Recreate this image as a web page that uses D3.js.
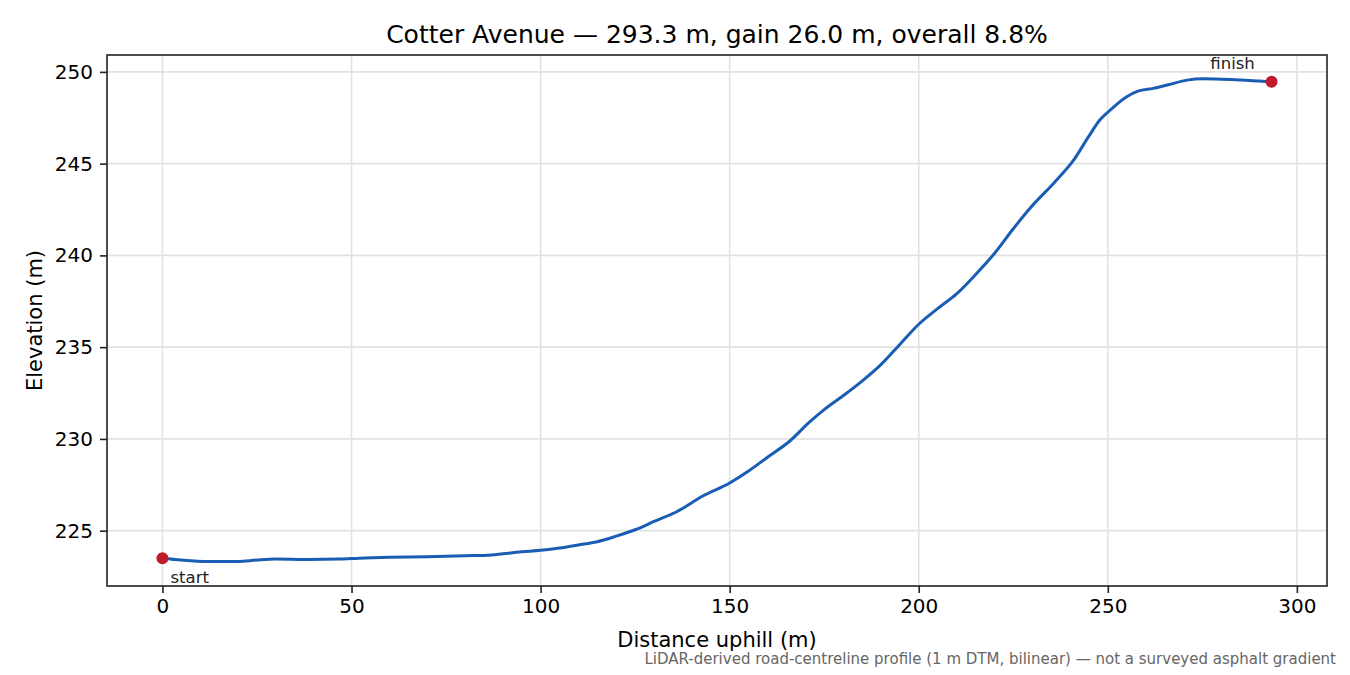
<!DOCTYPE html>
<html><head><meta charset="utf-8">
<script src="https://cdn.jsdelivr.net/npm/d3@7"></script>
<style>
body{margin:0;background:#fff;}
text{font-family:"DejaVu Sans",sans-serif;}
</style></head>
<body><svg id="c" width="1350" height="675"></svg>
<script>
const distance = [0,5,12,20,25,30,38,47,52,60,70,80,87,95,100,105,110,115,120,125,130,136,143,150,155,160,166,171,175,180,185,190,195,200,205,210,215,220,225,230,236,241,245,248,250,255,258,262,266,271,275,280,285,290,293.3];
const elevation = [223.5,223.4,223.32,223.32,223.4,223.45,223.43,223.45,223.5,223.55,223.58,223.63,223.68,223.85,223.93,224.05,224.22,224.4,224.7,225.05,225.5,226.03,226.9,227.6,228.25,229.0,229.9,230.9,231.6,232.35,233.15,234.05,235.15,236.25,237.1,237.9,238.95,240.1,241.45,242.7,244.0,245.2,246.5,247.4,247.8,248.65,248.95,249.1,249.3,249.55,249.62,249.6,249.56,249.5,249.46];
const xTicks = [0,50,100,150,200,250,300];
const yTicks = [225,230,235,240,245,250];
const titleText = "Cotter Avenue — 293.3 m, gain 26.0 m, overall 8.8%";
const xLabel = "Distance uphill (m)";
const yLabel = "Elevation (m)";
const footnote = "LiDAR-derived road-centreline profile (1 m DTM, bilinear) — not a surveyed asphalt gradient";

const svg = d3.select("#c");
const L=107,R=1327,T=55,B=586;
const x = d3.scaleLinear().domain([-14.665,307.965]).range([L,R]);
const y = d3.scaleLinear().domain([221.985,250.92]).range([B,T]);

// grid
svg.append("g").selectAll("line").data(xTicks).join("line")
  .attr("x1",d=>x(d)).attr("x2",d=>x(d)).attr("y1",T).attr("y2",B)
  .attr("stroke","#e2e2e2").attr("stroke-width",1.6);
svg.append("g").selectAll("line").data(yTicks).join("line")
  .attr("y1",d=>y(d)).attr("y2",d=>y(d)).attr("x1",L).attr("x2",R)
  .attr("stroke","#e2e2e2").attr("stroke-width",1.6);

// axes
const xa = svg.append("g").attr("transform",`translate(0,${B})`)
  .call(d3.axisBottom(x).tickValues(xTicks).tickSize(7).tickPadding(6).tickFormat(d3.format("d")));
const ya = svg.append("g").attr("transform",`translate(${L},0)`)
  .call(d3.axisLeft(y).tickValues(yTicks).tickSize(7).tickPadding(7).tickFormat(d3.format("d")));
[xa,ya].forEach(a=>{a.select(".domain").remove();
  a.selectAll("text").attr("font-size",20).attr("fill","#000").attr("font-family","DejaVu Sans");
  a.selectAll("line").attr("stroke","#222").attr("stroke-width",1.6);});

// line
const pts = distance.map((d,i)=>[d,elevation[i]]);
svg.append("path").datum(pts)
  .attr("d",d3.line().x(d=>x(d[0])).y(d=>y(d[1])).curve(d3.curveMonotoneX))
  .attr("fill","none").attr("stroke","#1a5db4").attr("stroke-width",3)
  .attr("stroke-linejoin","round").attr("stroke-linecap","round");

// endpoints
const ends = [pts[0], pts[pts.length-1]];
svg.append("g").selectAll("circle").data(ends).join("circle")
  .attr("cx",d=>x(d[0])).attr("cy",d=>y(d[1])).attr("r",6).attr("fill","#c11b2a");
svg.append("text").attr("x",x(pts[0][0])+8).attr("y",y(pts[0][1])+25)
  .attr("font-size",16.5).attr("fill","#222").text("start");
svg.append("text").attr("x",x(pts[pts.length-1][0])-39).attr("y",y(pts[pts.length-1][1])-13)
  .attr("font-size",16.5).attr("fill","#222").attr("text-anchor","middle").text("finish");

// frame
svg.append("rect").attr("x",L).attr("y",T).attr("width",R-L).attr("height",B-T)
  .attr("fill","none").attr("stroke","#222").attr("stroke-width",1.6);

// labels
svg.append("text").attr("x",(L+R)/2).attr("y",43).attr("text-anchor","middle")
  .attr("font-size",25).attr("fill","#000").text(titleText);
svg.append("text").attr("x",(L+R)/2).attr("y",647).attr("text-anchor","middle")
  .attr("font-size",21).attr("fill","#000").text(xLabel);
svg.append("text").attr("transform",`translate(42,${(T+B)/2}) rotate(-90)`).attr("text-anchor","middle")
  .attr("font-size",21).attr("fill","#000").text(yLabel);
svg.append("text").attr("x",1336).attr("y",664).attr("text-anchor","end")
  .attr("font-size",15).attr("fill","#666").text(footnote);
</script></body></html>
